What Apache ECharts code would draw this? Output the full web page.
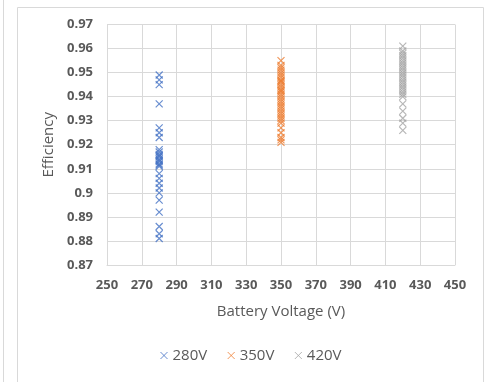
<!DOCTYPE html>
<html><head><meta charset="utf-8">
<script src="https://cdn.jsdelivr.net/npm/echarts@6/dist/echarts.min.js"></script>
<style>html,body{margin:0;padding:0;background:#fff}#c{width:485px;height:382px}</style>
</head><body><div id="c"></div>
<script>
const seriesNames = ['280V', '350V', '420V'];
const seriesX = [280, 350, 420];
const blueY = [0.949, 0.947, 0.945, 0.937, 0.927, 0.925, 0.923, 0.918, 0.917, 0.916, 0.9155, 0.915, 0.914, 0.9135, 0.913, 0.912, 0.9115, 0.911, 0.908, 0.906, 0.904, 0.902, 0.900, 0.897, 0.892, 0.886, 0.883, 0.881];
const orangeY = [0.955, 0.953, 0.952, 0.951, 0.950, 0.949, 0.948, 0.947, 0.9465, 0.946, 0.945, 0.944, 0.943, 0.9425, 0.942, 0.941, 0.940, 0.939, 0.938, 0.937, 0.936, 0.935, 0.934, 0.933, 0.932, 0.931, 0.930, 0.929, 0.927, 0.925, 0.923, 0.922, 0.921];
const grayY = [0.961, 0.959, 0.958, 0.957, 0.956, 0.955, 0.954, 0.953, 0.952, 0.951, 0.950, 0.949, 0.948, 0.947, 0.946, 0.945, 0.944, 0.943, 0.942, 0.941, 0.940, 0.937, 0.934, 0.931, 0.929, 0.926];
const xTicks = {min: 250, max: 450, interval: 20};
const yTicks = {min: 0.87, max: 0.97, interval: 0.01};
const colors = ['#4472C4', '#ED7D31', '#A5A5A5'];
const allY = [blueY, orangeY, grayY];

const xSym = 'path://M0,0L10,10M10,0L0,10';
const font = '"Open Sans", "Noto Sans", sans-serif';
const chart = echarts.init(document.getElementById('c'), null, {renderer: 'canvas'});
chart.setOption({
  animation: false,
  graphic: [
    {type: 'rect', shape: {x: 17.5, y: 7.5, width: 466, height: 400}, style: {fill: 'none', stroke: '#D9D9D9', lineWidth: 1}},
    {type: 'line', shape: {x1: 3.5, y1: 0, x2: 3.5, y2: 382}, style: {stroke: '#D9D9D9', lineWidth: 1}}
  ],
  grid: {left: 107, right: 30, top: 24.5, bottom: 117},
  legend: {
    bottom: 14, left: 155, itemGap: 20, itemWidth: 7, itemHeight: 7,
    textStyle: {color: '#595959', fontSize: 15, fontFamily: font},
    itemStyle: {borderWidth: 1},
    data: seriesNames
  },
  xAxis: {
    type: 'value', min: xTicks.min, max: xTicks.max, interval: xTicks.interval,
    name: 'Battery Voltage (V)', nameLocation: 'middle', nameGap: 39,
    nameTextStyle: {color: '#595959', fontSize: 15, fontFamily: font},
    axisLine: {show: true, lineStyle: {color: '#D9D9D9'}}, axisTick: {show: false},
    axisLabel: {color: '#595959', fontSize: 13, fontWeight: 'bold', fontFamily: font, margin: 14},
    splitLine: {show: true, lineStyle: {color: '#D9D9D9'}}
  },
  yAxis: {
    type: 'value', min: yTicks.min, max: yTicks.max, interval: yTicks.interval,
    name: 'Efficiency', nameLocation: 'middle', nameGap: 49,
    nameTextStyle: {color: '#595959', fontSize: 15, fontFamily: font},
    axisLine: {show: true, lineStyle: {color: '#D9D9D9'}}, axisTick: {show: false},
    axisLabel: {color: '#595959', fontSize: 13, fontWeight: 'bold', fontFamily: font, margin: 14},
    splitLine: {show: true, lineStyle: {color: '#D9D9D9'}}
  },
  series: seriesNames.map((n, i) => ({
    name: n, type: 'scatter', symbol: xSym, symbolSize: 7,
    itemStyle: {color: 'rgba(0,0,0,0)', borderColor: colors[i], borderWidth: 1.2},
    data: allY[i].map(v => [seriesX[i], v])
  }))
});
</script></body></html>
